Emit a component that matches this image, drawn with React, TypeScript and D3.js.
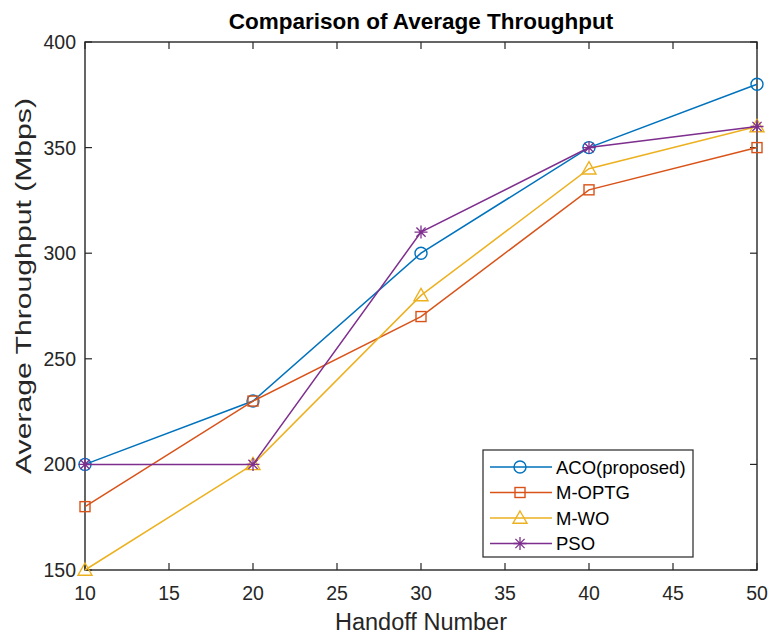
import React from "react";
import * as d3 from "d3";

const handoffs = [10, 20, 30, 40, 50];
const aco = [200, 230, 300, 350, 380];
const moptg = [180, 230, 270, 330, 350];
const mwo = [150, 200, 280, 340, 360];
const pso = [200, 200, 310, 350, 360];
const xTicks = [10, 15, 20, 25, 30, 35, 40, 45, 50];
const yTicks = [150, 200, 250, 300, 350, 400];

const seriesNames = ["ACO(proposed)", "M-OPTG", "M-WO", "PSO"];
const seriesColors = ["#0072BD", "#D95319", "#EDB120", "#7E2F8E"];
const seriesMarkers = ["circle", "square", "triangle", "star"];
const seriesValues = [aco, moptg, mwo, pso];

const W = 769, H = 634;
const L = 85, R = 757, T = 42, B = 570;
const font = "'Liberation Sans', Arial, Helvetica, sans-serif";

function Marker({ type, x, y, color }: { type: string; x: number; y: number; color: string }) {
  if (type === "circle") return <circle cx={x} cy={y} r={6} fill="none" stroke={color} strokeWidth={1.4} />;
  if (type === "square") return <rect x={x - 5} y={y - 5} width={10} height={10} fill="none" stroke={color} strokeWidth={1.4} />;
  if (type === "triangle") {
    const s = 7;
    return <path d={`M${x},${y - s} L${x + s},${y + s * 0.75} L${x - s},${y + s * 0.75} Z`} fill="none" stroke={color} strokeWidth={1.4} />;
  }
  const r = 6.5;
  const d = [0, 45, 90, 135].map(a => {
    const rad = (a * Math.PI) / 180;
    return `M${x - r * Math.cos(rad)},${y - r * Math.sin(rad)} L${x + r * Math.cos(rad)},${y + r * Math.sin(rad)}`;
  }).join(" ");
  return <path d={d} stroke={color} strokeWidth={1.3} fill="none" />;
}

export default function App() {
  const x = d3.scaleLinear().domain([10, 50]).range([L, R]);
  const y = d3.scaleLinear().domain([150, 400]).range([B, T]);
  const line = d3.line<number>().x((_, i) => x(handoffs[i])).y(d => y(d));
  const tl = 7;
  const legX = 483, legY = 450, legW = 210, legH = 107;
  const rowY = [467, 492.5, 518, 543.5];

  return (
    <svg width={W} height={H} style={{ position: "absolute", left: 0, top: 0, background: "#fff" }}>
      <rect x={0} y={0} width={W} height={H} fill="#fff" />
      <text x={(L + R) / 2} y={29} textAnchor="middle" fontFamily={font} fontWeight="bold" fontSize={22.5} fill="#000">
        Comparison of Average Throughput
      </text>
      {xTicks.map(t => (
        <g key={"x" + t}>
          <line x1={x(t)} x2={x(t)} y1={B} y2={B - tl} stroke="#262626" strokeWidth={1.2} />
          <line x1={x(t)} x2={x(t)} y1={T} y2={T + tl} stroke="#262626" strokeWidth={1.2} />
          <text x={x(t)} y={B + 30} textAnchor="middle" fontFamily={font} fontSize={19.5} fill="#262626">{t}</text>
        </g>
      ))}
      {yTicks.map(t => (
        <g key={"y" + t}>
          <line x1={L} x2={L + tl} y1={y(t)} y2={y(t)} stroke="#262626" strokeWidth={1.2} />
          <line x1={R} x2={R - tl} y1={y(t)} y2={y(t)} stroke="#262626" strokeWidth={1.2} />
          <text x={L - 9} y={y(t) + 7} textAnchor="end" fontFamily={font} fontSize={19.5} fill="#262626">{t}</text>
        </g>
      ))}
      <rect x={L} y={T} width={R - L} height={B - T} fill="none" stroke="#262626" strokeWidth={1.4} />
      <text x={(L + R) / 2} y={630} textAnchor="middle" fontFamily={font} fontSize={23.5} fill="#262626">Handoff Number</text>
      <text transform={`translate(31,286) rotate(-90)`} textAnchor="middle" fontFamily={font} fontSize={22}
        textLength={376} lengthAdjust="spacingAndGlyphs" fill="#262626">
        Average Throughput (Mbps)
      </text>
      {seriesValues.map((vals, si) => (
        <g key={si}>
          <path d={line(vals) || ""} fill="none" stroke={seriesColors[si]} strokeWidth={1.5} />
          {vals.map((v, i) => (
            <Marker key={i} type={seriesMarkers[si]} x={x(handoffs[i])} y={y(v)} color={seriesColors[si]} />
          ))}
        </g>
      ))}
      <rect x={legX} y={legY} width={legW} height={legH} fill="#fff" stroke="#262626" strokeWidth={1.2} />
      {seriesNames.map((n, si) => (
        <g key={n}>
          <line x1={490} x2={552} y1={rowY[si]} y2={rowY[si]} stroke={seriesColors[si]} strokeWidth={1.5} />
          <Marker type={seriesMarkers[si]} x={520} y={rowY[si]} color={seriesColors[si]} />
          <text x={556} y={rowY[si] + 6.5} fontFamily={font} fontSize={18.5} fill="#000">{n}</text>
        </g>
      ))}
    </svg>
  );
}
